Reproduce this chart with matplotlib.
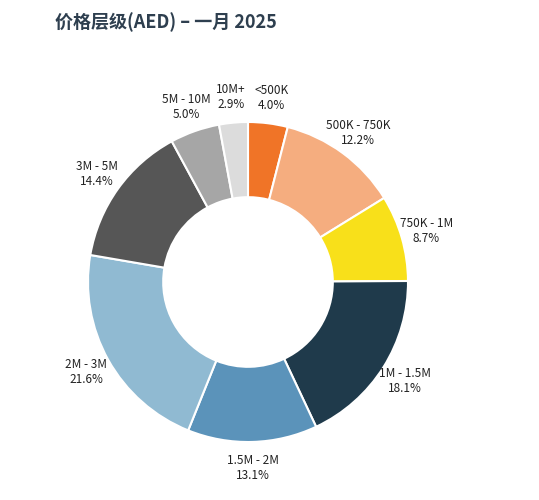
import matplotlib
matplotlib.use("Agg")
import matplotlib.pyplot as plt

categories = ["<500K", "500K - 750K", "750K - 1M", "1M - 1.5M", "1.5M - 2M", "2M - 3M", "3M - 5M", "5M - 10M", "10M+"]
values = [4.0, 12.2, 8.7, 18.1, 13.1, 21.6, 14.4, 5.0, 2.9]
colors = ["#F07427", "#F5AD7F", "#F8E01A", "#1F3A4B", "#5B93BA", "#90BAD2", "#565656", "#A6A6A6", "#DCDCDC"]

plt.rcParams['font.family'] = ['Noto Sans CJK SC', 'DejaVu Sans']
fig = plt.figure(figsize=(5.39, 5.0), dpi=100)
ax = fig.add_axes([48/539, 18/500, 400/539, 400/500])
labels = [f"{c}\n{v:.1f}%" for c, v in zip(categories, values)]
wedges, texts = ax.pie(values, colors=colors, startangle=90, counterclock=False,
                       labels=labels, labeldistance=1.16,
                       wedgeprops=dict(width=0.47, edgecolor="white", linewidth=1.5),
                       textprops=dict(fontsize=8.5, color="#222222", linespacing=1.2))
for t in texts:
    t.set_ha("center")
ax.set_xlim(-1.25, 1.25)
ax.set_ylim(-1.25, 1.25)
ax.set_aspect("equal")
fig.text(55/539, 1-22/500, "价格层级(AED) – 一月 2025", fontsize=13, fontweight="bold",
         color="#2E3F4F", va="center", ha="left")
fig.savefig("out.png", dpi=100, facecolor="white")
